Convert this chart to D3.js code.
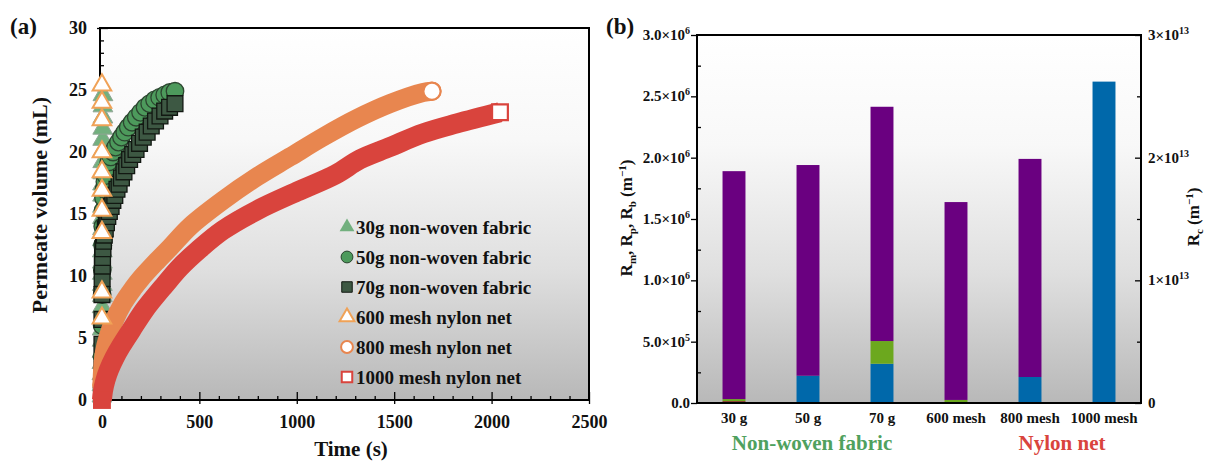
<!DOCTYPE html>
<html>
<head>
<meta charset="utf-8">
<script src="https://cdn.jsdelivr.net/npm/d3@7"></script>
<style>
  body { margin: 0; background: #fff; }
  svg { display: block; }
  text { font-family: "Liberation Serif", "Times New Roman", serif; font-weight: bold; fill: #111; }
</style>
</head>
<body>
<svg id="chart" width="1206" height="462"></svg>
<script>
// ---- panel (a): permeate volume (mL) vs time (s) ----
const t30 = [0,0,0,0,1,1,1,1,1,2,2,2,2,2,2,3,3,3,3,3,4,4,4,4,4,5,5,5];
const v30 = [0.3,1.2,2.1,3.0,3.9,4.8,5.7,6.6,7.5,8.4,9.3,10.2,11.1,12.0,12.9,13.8,14.7,15.6,16.5,17.4,18.3,19.2,20.1,21.0,21.9,22.8,23.7,24.6];

const t50 = [0,0,1,1,2,3,4,6,8,11,15,20,27,35,45,57,70,85,100,117,135,155,176,198,221,245,270,296,322,348,375];
const v50 = [1.0,3.5,6.0,8.5,10.5,12.5,14.0,15.3,16.3,17.0,17.6,18.1,18.7,19.2,19.6,20.0,20.4,20.8,21.2,21.6,22.0,22.4,22.8,23.2,23.6,23.9,24.2,24.4,24.6,24.8,24.9];

const t70 = [0,0,0,0,0,1,2,3,5,8,12,17,23,30,38,47,56,66,77,88,100,113,127,142,158,175,193,212,232,253,275,298,322,347,375];
const v70 = [0.5,2.5,4.5,6.5,8.5,9.8,10.8,11.5,12.2,12.8,13.3,13.8,14.3,14.8,15.2,15.6,16.1,16.5,17.0,17.4,17.9,18.4,18.9,19.4,19.8,20.2,20.7,21.2,21.6,22.1,22.5,22.9,23.3,23.6,23.9];

const t600 = [0,0,0,0,0,0,0,0,0,0];
const v600 = [6.6,8.7,13.5,15.3,16.9,18.4,20.0,22.6,24.0,25.4];

const t800 = [0,4,12,30,60,108,160,200,282,350,452,621,796,965,1134,1309,1478,1648,1694];
const v800 = [1.2,2.6,3.8,5.0,6.3,7.8,9.0,9.8,11.2,12.3,14.0,16.1,18.0,19.6,21.2,22.7,23.9,24.8,24.9];

const t1000 = [0,5,18,35,64,100,151,220,326,400,495,621,796,1001,1200,1324,1478,1648,1822,2043];
const v1000 = [0,0.7,1.6,2.4,3.4,4.4,5.65,7.3,9.35,10.7,12.1,13.7,15.3,16.8,18.2,19.4,20.4,21.5,22.3,23.2];

const legendLabels = ["30g non-woven fabric","50g non-woven fabric","70g non-woven fabric",
                      "600 mesh nylon net","800 mesh nylon net","1000 mesh nylon net"];

const xTicksA = [0,500,1000,1500,2000,2500];
const xTickLabelsA = ["0","500","1000","1500","2000","2500"];
const xMinorA = [100,200,300,400,600,700,800,900,1100,1200,1300,1400,1600,1700,1800,1900,2100,2200,2300,2400];
const yTicksA = [0,5,10,15,20,25,30];
const yTickLabelsA = ["0","5","10","15","20","25","30"];
const yMinorA = [1,2,3,4,6,7,8,9,11,12,13,14,16,17,18,19,21,22,23,24,26,27,28,29];

// ---- panel (b): filtration resistances ----
const cats = ["30 g","50 g","70 g","600 mesh","800 mesh","1000 mesh"];
const rDark = [0.015e6,0,0,0,0,0];
const rm = [0,0.222e6,0.32e6,0,0.212e6,0];
const rp = [0.017e6,0,0.185e6,0.025e6,0,0];
const rb = [1.858e6,1.718e6,1.91e6,1.613e6,1.778e6,0];
const rc = [0,0,0,0,0,2.62e13];   // right axis

const leftTicksB = [0,5e5,1e6,1.5e6,2e6,2.5e6,3e6];
const leftTickLabelsB = [["0.0",""],["5.0×10","5"],["1.0×10","6"],["1.5×10","6"],["2.0×10","6"],["2.5×10","6"],["3.0×10","6"]];
const leftMinorB = [2.5e5,7.5e5,1.25e6,1.75e6,2.25e6,2.75e6];
const rightTicksB = [0,1e13,2e13,3e13];
const rightTickLabelsB = [["0",""],["1×10","13"],["2×10","13"],["3×10","13"]];
const rightMinorB = [0.5e13,1.5e13,2.5e13];
const groupLabels = ["Non-woven fabric","Nylon net"];

const svg = d3.select("#chart");
const defs = svg.append("defs");
["gA","gB"].forEach(id => {
  const g = defs.append("linearGradient").attr("id", id)
    .attr("x1",0).attr("y1",0).attr("x2",0).attr("y2",1);
  [[0,"#ffffff"],[0.3,"#f8f8f8"],[0.65,"#dfdfdf"],[1,"#b8b8b8"]].forEach(s =>
    g.append("stop").attr("offset", s[0]).attr("stop-color", s[1]));
});

// ================= panel (a) =================
const A = {l:100, r:589, t:28, b:400};
const xA = d3.scaleLinear().domain([-10,2500]).range([A.l, A.r]);
const yA = d3.scaleLinear().domain([0,30]).range([A.b, A.t]);

svg.append("rect").attr("x",A.l).attr("y",A.t).attr("width",A.r-A.l).attr("height",A.b-A.t)
  .attr("fill","url(#gA)");

function tidy(g){ g.select(".domain").remove(); g.selectAll("line").attr("stroke","#000").attr("stroke-width",1.3); }

const gxA = svg.append("g").attr("transform",`translate(0,${A.b})`);
gxA.append("g").call(d3.axisBottom(xA).tickValues(xTicksA).tickSize(-8).tickFormat("")).call(tidy);
gxA.append("g").call(d3.axisBottom(xA).tickValues(xMinorA).tickSize(-4).tickFormat("")).call(tidy);
gxA.append("g").call(d3.axisBottom(xA).tickValues(xTicksA).tickSize(4).tickPadding(11)
    .tickFormat((d,i) => xTickLabelsA[i])).call(tidy)
  .selectAll("text").style("font-size","18px");

const gyA = svg.append("g").attr("transform",`translate(${A.l},0)`);
gyA.append("g").call(d3.axisLeft(yA).tickValues(yTicksA).tickSize(-8).tickFormat("")).call(tidy);
gyA.append("g").call(d3.axisLeft(yA).tickValues(yMinorA).tickSize(-4).tickFormat("")).call(tidy);
gyA.append("g").call(d3.axisLeft(yA).tickValues(yTicksA).tickSize(3).tickPadding(10)
    .tickFormat((d,i) => yTickLabelsA[i])).call(tidy)
  .selectAll("text").style("font-size","18px");

svg.append("rect").attr("x",A.l).attr("y",A.t).attr("width",A.r-A.l).attr("height",A.b-A.t)
  .attr("fill","none").attr("stroke","#000").attr("stroke-width",2);

const zip = (ts, vs) => ts.map((t,i) => ({t:t, v:vs[i]}));
const plotA = svg.append("g");

function scatter(ts, vs, type, size, fill, stroke, sw){
  plotA.append("g").selectAll("path").data(zip(ts, vs)).join("path")
    .attr("transform", d => `translate(${xA(d.t)},${yA(d.v)})`)
    .attr("d", d3.symbol().type(type).size(size))
    .attr("fill", fill).attr("stroke", stroke).attr("stroke-width", sw);
}
// dense hollow markers in the reference merge into a solid band; draw it as a thick line
function band(ts, vs, type, size, color, width, cap){
  const pts = zip(ts, vs);
  plotA.append("path").datum(pts)
    .attr("d", d3.line().x(d => xA(d.t)).y(d => yA(d.v)).curve(d3.curveCatmullRom.alpha(0.5)))
    .attr("fill","none").attr("stroke",color).attr("stroke-width",width)
    .attr("stroke-linejoin","round").attr("stroke-linecap",cap);
  const first = pts[0];
  plotA.append("path").attr("transform",`translate(${xA(first.t)},${yA(first.v)})`)
    .attr("d", d3.symbol().type(type).size(size)).attr("fill",color);
  const last = pts[pts.length-1];
  plotA.append("path").attr("transform",`translate(${xA(last.t)},${yA(last.v)})`)
    .attr("d", d3.symbol().type(type).size(size*0.78))
    .attr("fill","#fff").attr("stroke",color).attr("stroke-width",2.2);
}

scatter(t30, v30, d3.symbolTriangle, 170, "#72b07e", "#8fa594", 1);
scatter(t50, v50, d3.symbolCircle, 240, "#4d9a5c", "#2c4630", 1.3);
scatter(t70, v70, d3.symbolSquare, 250, "#3d5843", "#121812", 1.3);
band(t800, v800, d3.symbolCircle, 300, "#e8864f", 19, "round");
band(t1000, v1000, d3.symbolSquare, 320, "#d9443d", 20, "butt");
scatter(t600, v600, d3.symbolTriangle, 150, "#ffffff", "#f0a257", 2);

// legend
const legStyles = [
  {type:d3.symbolTriangle, fill:"#72b07e", stroke:"none", sw:0},
  {type:d3.symbolCircle,   fill:"#4d9a5c", stroke:"#2c4630", sw:1},
  {type:d3.symbolSquare,   fill:"#3d5843", stroke:"#121812", sw:1},
  {type:d3.symbolTriangle, fill:"#ffffff", stroke:"#f0a257", sw:2},
  {type:d3.symbolCircle,   fill:"#ffffff", stroke:"#e8864f", sw:2},
  {type:d3.symbolSquare,   fill:"#ffffff", stroke:"#d9443d", sw:2}
];
const leg = svg.append("g");
legendLabels.forEach((lab, i) => {
  const y = 227 + i*30;
  const s = legStyles[i];
  leg.append("path").attr("transform",`translate(347,${y})`)
    .attr("d", d3.symbol().type(s.type).size(s.type === d3.symbolTriangle ? 95 : 110))
    .attr("fill", s.fill).attr("stroke", s.stroke).attr("stroke-width", s.sw);
  leg.append("text").attr("x",356).attr("y",y+6.5).style("font-size","19px").text(lab);
});

svg.append("text").attr("transform","translate(47,205) rotate(-90)").attr("text-anchor","middle")
  .style("font-size","22px").text("Permeate volume (mL)");
svg.append("text").attr("x",351).attr("y",456).attr("text-anchor","middle")
  .style("font-size","21px").text("Time (s)");
svg.append("text").attr("x",10).attr("y",34).style("font-size","23px").text("(a)");

// ================= panel (b) =================
const B = {l:697, r:1141, t:35, b:403};
const xB = d3.scaleBand().domain(cats).range([B.l, B.r]).paddingInner(0.69).paddingOuter(0.345);
const yL = d3.scaleLinear().domain([0,3e6]).range([B.b, B.t]);
const yR = d3.scaleLinear().domain([0,3e13]).range([B.b, B.t]);
const mid = c => xB(c) + xB.bandwidth()/2;

svg.append("rect").attr("x",B.l).attr("y",B.t).attr("width",B.r-B.l).attr("height",B.b-B.t)
  .attr("fill","url(#gB)");

const rows = cats.map((c,i) => ({cat:c, dark:rDark[i], rm:rm[i], rp:rp[i], rb:rb[i]}));
const keys = ["dark","rm","rp","rb"];
const barColors = {dark:"#8b1b1f", rm:"#0068aa", rp:"#6ca81e", rb:"#6a0080"};
const stacked = d3.stack().keys(keys)(rows);
svg.append("g").selectAll("g").data(stacked).join("g")
  .attr("fill", d => barColors[d.key])
  .selectAll("rect").data(d => d).join("rect")
  .attr("x", d => xB(d.data.cat)).attr("width", xB.bandwidth())
  .attr("y", d => yL(d[1])).attr("height", d => yL(d[0]) - yL(d[1]));

svg.append("g").selectAll("rect").data(cats.map((c,i) => ({cat:c, v:rc[i]})).filter(d => d.v > 0)).join("rect")
  .attr("x", d => xB(d.cat)).attr("width", xB.bandwidth())
  .attr("y", d => yR(d.v)).attr("height", d => yR(0) - yR(d.v)).attr("fill","#0068aa");

const gyL = svg.append("g").attr("transform",`translate(${B.l},0)`);
gyL.append("g").call(d3.axisLeft(yL).tickValues(leftTicksB).tickSize(6).tickFormat("")).call(tidy);
gyL.append("g").call(d3.axisLeft(yL).tickValues(leftMinorB).tickSize(-4).tickFormat("")).call(tidy);
const gyR = svg.append("g").attr("transform",`translate(${B.r},0)`);
gyR.append("g").call(d3.axisRight(yR).tickValues(rightTicksB).tickSize(-6).tickFormat("")).call(tidy);
gyR.append("g").call(d3.axisRight(yR).tickValues(rightMinorB).tickSize(-4).tickFormat("")).call(tidy);

svg.append("rect").attr("x",B.l).attr("y",B.t).attr("width",B.r-B.l).attr("height",B.b-B.t)
  .attr("fill","none").attr("stroke","#000").attr("stroke-width",2);

function sciLabel(g, x, y, parts, anchor){
  const t = g.append("text").attr("x",x).attr("y",y).attr("text-anchor",anchor).style("font-size","15px");
  t.append("tspan").text(parts[0]);
  if (parts[1]) t.append("tspan").attr("dy",-6).style("font-size","10px").text(parts[1]);
}
const tlB = svg.append("g");
leftTicksB.forEach((v,i) => sciLabel(tlB, 690, yL(v)+5, leftTickLabelsB[i], "end"));
rightTicksB.forEach((v,i) => sciLabel(tlB, 1148, yR(v)+5, rightTickLabelsB[i], "start"));

svg.append("g").selectAll("text").data(cats).join("text")
  .attr("x", d => mid(d)).attr("y", 423).attr("text-anchor","middle")
  .style("font-size","15px").text(d => d);

svg.append("text").attr("x", mid("50 g") + 4).attr("y",450).attr("text-anchor","middle")
  .style("font-size","21px").style("fill","#4fa15e").text(groupLabels[0]);
svg.append("text").attr("x", (mid("800 mesh") + mid("1000 mesh")) / 2 - 5).attr("y",450).attr("text-anchor","middle")
  .style("font-size","21px").style("fill","#d9443d").text(groupLabels[1]);

function resLabel(x, y, subs){
  const t = svg.append("text").attr("transform",`translate(${x},${y}) rotate(-90)`)
    .attr("text-anchor","middle").style("font-size","17px");
  subs.forEach((s, i) => {
    t.append("tspan").attr("dy", i === 0 ? 0 : -4).text((i === 0 ? "" : ", ") + "R");
    t.append("tspan").attr("dy", 4).style("font-size","11px").text(s);
  });
  t.append("tspan").attr("dy",-4).text(" (m");
  t.append("tspan").attr("dy",-6).style("font-size","11px").text("−1");
  t.append("tspan").attr("dy",6).text(")");
}
resLabel(632, 218, ["m","p","b"]);
resLabel(1199, 217, ["c"]);

svg.append("text").attr("x",606).attr("y",34).style("font-size","23px").text("(b)");
</script>
</body>
</html>
